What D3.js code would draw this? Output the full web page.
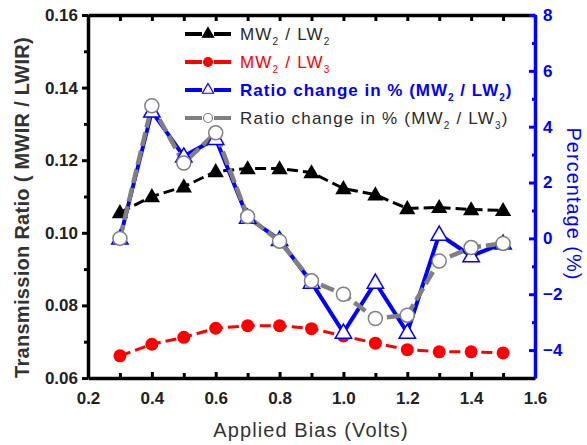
<!DOCTYPE html>
<html>
<head>
<meta charset="utf-8">
<script src="https://cdn.jsdelivr.net/npm/d3@7"></script>
<style>
  body { margin: 0; background: #fff; }
  svg { display: block; font-family: "Liberation Sans", Arial, sans-serif; }
</style>
</head>
<body>
<div id="chart"></div>
<script>
// Data
const bias = [0.3, 0.4, 0.5, 0.6, 0.7, 0.8, 0.9, 1.0, 1.1, 1.2, 1.3, 1.4, 1.5];
const ratioLW2 = [0.1056, 0.110, 0.1127, 0.1169, 0.1177, 0.1177, 0.1166, 0.1122, 0.1105, 0.1067, 0.107, 0.1064, 0.1062];
const ratioLW3 = [0.0661, 0.0693, 0.0712, 0.0737, 0.0744, 0.0744, 0.0736, 0.0716, 0.0696, 0.0678, 0.0672, 0.0672, 0.0669];
const changeLW2 = [0.0, 4.55, 2.94, 3.57, 0.75, -0.05, -1.58, -3.37, -1.58, -3.37, 0.14, -0.63, -0.18];
const changeLW3 = [0.0, 4.75, 2.7, 3.78, 0.78, -0.1, -1.52, -2.0, -2.87, -2.75, -0.81, -0.33, -0.18];

const xTicks = [0.2, 0.4, 0.6, 0.8, 1.0, 1.2, 1.4, 1.6];
const yLeftTicks = [0.06, 0.08, 0.10, 0.12, 0.14, 0.16];
const yRightTicks = [-4, -2, 0, 2, 4, 6, 8];

const W = 587, H = 445;
const margin = { top: 15, right: 52, bottom: 67, left: 88 };
const iw = W - margin.left - margin.right;
const ih = H - margin.top - margin.bottom;

const svg = d3.select('#chart').append('svg')
    .attr('width', W)
    .attr('height', H);

const g = svg.append('g')
    .attr('transform', `translate(${margin.left},${margin.top})`);

const x = d3.scaleLinear().domain([0.2, 1.6]).range([0, iw]);
const yL = d3.scaleLinear().domain([0.06, 0.16]).range([ih, 0]);
const yR = d3.scaleLinear().domain([-5, 8]).range([ih, 0]);

const BLUE = '#0000ff', RED = '#ff0000', GRAY = '#808080';

// Axes
const minorX = d3.range(0.3, 1.6, 0.2);
g.append('g').attr('transform', `translate(0,${ih})`)
    .call(d3.axisBottom(x).tickValues(xTicks).tickFormat(d3.format('.1f')).tickSizeInner(-6).tickSizeOuter(0).tickPadding(14));
g.append('g').attr('transform', `translate(0,${ih})`)
    .call(d3.axisBottom(x).tickValues(minorX).tickFormat('').tickSizeInner(-5).tickSizeOuter(0))
    .select('.domain').remove();

g.append('g')
    .call(d3.axisTop(x).tickValues(d3.range(0.2, 1.61, 0.1)).tickFormat('').tickSizeInner(-6).tickSizeOuter(0));

g.append('g')
    .call(d3.axisLeft(yL).tickValues(yLeftTicks).tickFormat(d3.format('.2f')).tickSizeInner(6).tickSizeOuter(0).tickPadding(4));
g.append('g')
    .call(d3.axisLeft(yL).tickValues([0.07, 0.09, 0.11, 0.13, 0.15]).tickFormat('').tickSizeInner(4).tickSizeOuter(0))
    .select('.domain').remove();

const rightAxis = g.append('g').attr('transform', `translate(${iw},0)`)
    .call(d3.axisRight(yR).tickValues(yRightTicks).tickFormat(d3.format('d')).tickSizeInner(-6).tickSizeOuter(0).tickPadding(8));
const rightMinor = g.append('g').attr('transform', `translate(${iw},0)`)
    .call(d3.axisRight(yR).tickValues([-3, -1, 1, 3, 5, 7]).tickFormat('').tickSizeInner(-3).tickSizeOuter(0));
rightMinor.select('.domain').remove();

g.selectAll('.domain').attr('stroke-width', 3.5);
g.selectAll('.tick line').attr('stroke-width', 3);
g.selectAll('.tick text')
    .attr('font-size', 17)
    .attr('font-weight', 'bold')
    .attr('fill', '#222');

rightAxis.selectAll('.domain, .tick line').attr('stroke', BLUE);
rightMinor.selectAll('.tick line').attr('stroke', BLUE);
rightAxis.selectAll('.tick text').attr('fill', BLUE);

// Axis titles
svg.append('text')
    .attr('transform', `translate(29,${margin.top + ih / 2 + 11}) rotate(-90)`)
    .attr('text-anchor', 'middle')
    .attr('font-size', 20)
    .attr('font-weight', 'bold')
    .attr('letter-spacing', 0.3)
    .attr('fill', '#333')
    .text('Transmission Ratio ( MWIR / LWIR)');

svg.append('text')
    .attr('x', 311)
    .attr('y', 437)
    .attr('text-anchor', 'middle')
    .attr('font-size', 20)
    .attr('letter-spacing', 1.1)
    .attr('fill', '#333')
    .text('Applied Bias (Volts)');

svg.append('text')
    .attr('transform', `translate(567,204) rotate(90)`)
    .attr('text-anchor', 'middle')
    .attr('font-size', 20)
    .attr('letter-spacing', 1)
    .attr('fill', BLUE)
    .text('Percentage (%)');

// Series
const tri = d3.symbol().type(d3.symbolTriangle).size(115);
const lineL = vals => d3.line().x((d, i) => x(bias[i])).y(d => yL(d))(vals);
const lineR = vals => d3.line().x((d, i) => x(bias[i])).y(d => yR(d))(vals);

// MW2/LW2
g.append('path').attr('d', lineL(ratioLW2))
    .attr('fill', 'none').attr('stroke', '#000').attr('stroke-width', 3).attr('stroke-dasharray', '11,5');
g.selectAll('.t1').data(ratioLW2).enter().append('path')
    .attr('d', tri)
    .attr('transform', (d, i) => `translate(${x(bias[i])},${yL(d) + 1})`)
    .attr('fill', '#000');

// MW2/LW3
g.append('path').attr('d', lineL(ratioLW3))
    .attr('fill', 'none').attr('stroke', RED).attr('stroke-width', 3).attr('stroke-dasharray', '11,5');
g.selectAll('.c1').data(ratioLW3).enter().append('circle')
    .attr('cx', (d, i) => x(bias[i]))
    .attr('cy', d => yL(d))
    .attr('r', 6.5)
    .attr('fill', RED);

// Ratio change (MW2/LW2)
g.append('path').attr('d', lineR(changeLW2))
    .attr('fill', 'none').attr('stroke', BLUE).attr('stroke-width', 4);

// Ratio change (MW2/LW3)
g.append('path').attr('d', lineR(changeLW3))
    .attr('fill', 'none').attr('stroke', GRAY).attr('stroke-width', 4.5).attr('stroke-dasharray', '14,5');

g.selectAll('.t2').data(changeLW2).enter().append('path')
    .attr('d', tri)
    .attr('transform', (d, i) => `translate(${x(bias[i])},${yR(d) + 1})`)
    .attr('fill', '#fff')
    .attr('stroke', BLUE)
    .attr('stroke-width', 1.5);

g.selectAll('.c2').data(changeLW3).enter().append('circle')
    .attr('cx', (d, i) => x(bias[i]))
    .attr('cy', d => yR(d))
    .attr('r', 7)
    .attr('fill', '#fff')
    .attr('stroke', GRAY)
    .attr('stroke-width', 1.5);

// Legend
const legend = [
    { label: ['MW', '2', ' / LW', '2'], color: '#000', text: '#2a2a2a', marker: 'tri', fill: '#000', weight: 'normal' },
    { label: ['MW', '2', ' / LW', '3'], color: RED, text: RED, marker: 'circle', fill: RED, weight: 'normal' },
    { label: ['Ratio change in % (MW', '2', ' / LW', '2', ')'], color: BLUE, text: BLUE, marker: 'tri', fill: '#fff', weight: 'bold' },
    { label: ['Ratio change in % (MW', '2', ' / LW', '3', ')'], color: GRAY, text: '#2a2a2a', marker: 'circle', fill: '#fff', weight: 'normal' }
];
const legY = [34, 62, 90, 118];

legend.forEach((d, i) => {
    const row = svg.append('g').attr('transform', `translate(185,${legY[i]})`);
    row.append('line').attr('x1', 0).attr('x2', 17).attr('stroke', d.color).attr('stroke-width', 4);
    row.append('line').attr('x1', 29).attr('x2', 46).attr('stroke', d.color).attr('stroke-width', 4);
    if (d.marker === 'tri') {
        row.append('path').attr('d', d3.symbol().type(d3.symbolTriangle).size(55))
            .attr('transform', 'translate(23,0)')
            .attr('fill', d.fill).attr('stroke', d.color).attr('stroke-width', 1.2);
    } else {
        row.append('circle').attr('cx', 23).attr('r', 4.5)
            .attr('fill', d.fill).attr('stroke', d.color).attr('stroke-width', 1.2);
    }
    const t = row.append('text')
        .attr('x', 55)
        .attr('y', 6)
        .attr('font-size', 17)
        .attr('font-weight', d.weight)
        .attr('letter-spacing', d.weight === 'bold' ? 1 : 1.2)
        .attr('fill', d.text);
    d.label.forEach((s, j) => {
        const sub = j % 2 === 1;
        t.append('tspan')
            .attr('font-size', sub ? 10 : 17)
            .attr('dy', sub ? 5 : (j > 0 ? -5 : 0))
            .text(s);
    });
});
</script>
</body>
</html>
